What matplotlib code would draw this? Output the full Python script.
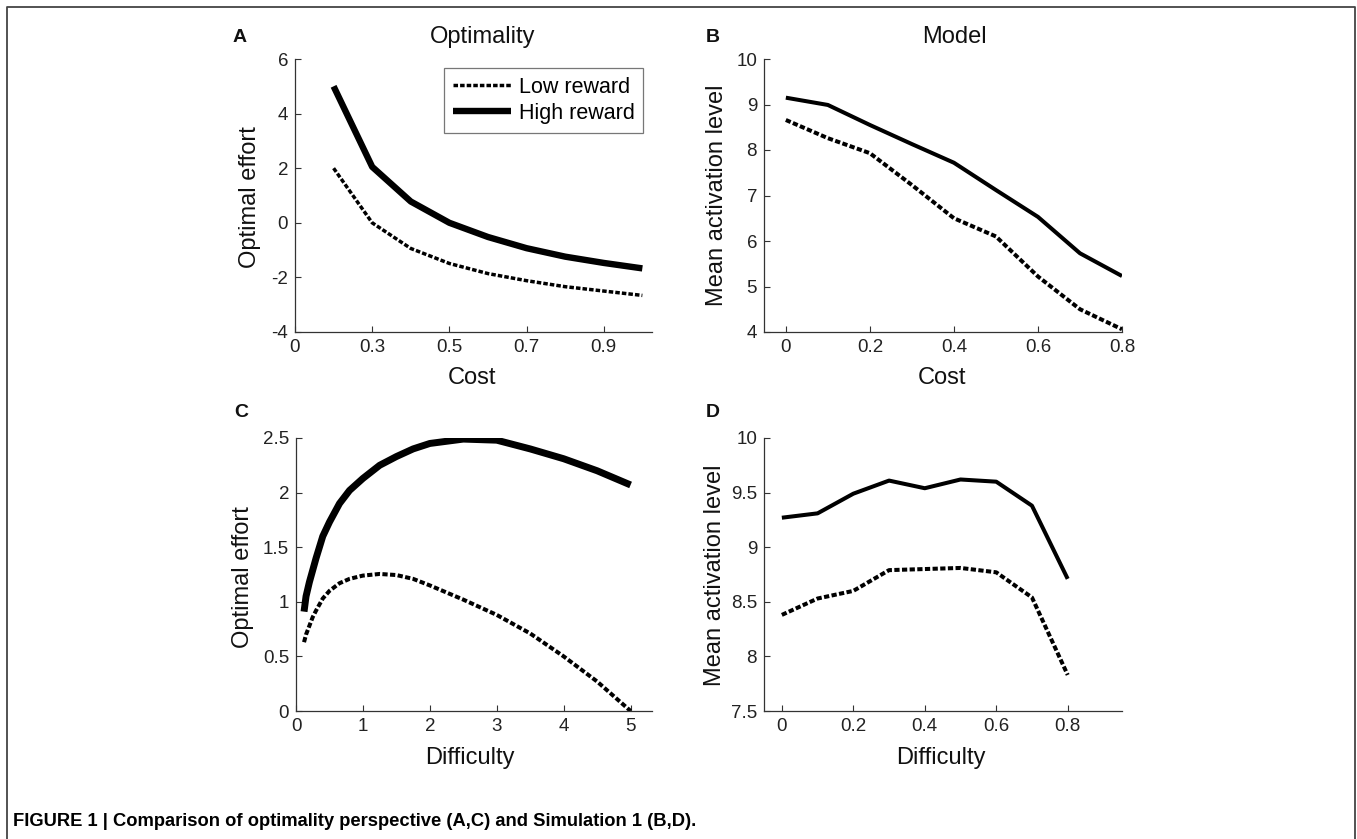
import numpy as np
import matplotlib
matplotlib.use('Agg')
import matplotlib.pyplot as plt
from matplotlib.ticker import FuncFormatter

plt.rcParams['font.family'] = ['Liberation Sans', 'DejaVu Sans']

# Panel A: optimality vs cost
cost_a = [0.2, 0.3, 0.4, 0.5, 0.6, 0.7, 0.8, 0.9, 1.0]
a_low = [2.0, 0.0, -0.94, -1.49, -1.86, -2.12, -2.34, -2.5, -2.66]
a_high = [5.0, 2.05, 0.78, 0.0, -0.52, -0.93, -1.24, -1.47, -1.67]
a_xticks = [0.1, 0.3, 0.5, 0.7, 0.9]
a_xticklabels = ['0', '0.3', '0.5', '0.7', '0.9']

# Panel B: model vs cost
cost_b = [0, 0.1, 0.2, 0.3, 0.4, 0.5, 0.6, 0.7, 0.8]
b_low = [8.66, 8.26, 7.93, 7.23, 6.5, 6.1, 5.22, 4.5, 4.06]
b_high = [9.15, 8.99, 8.55, 8.13, 7.72, 7.12, 6.53, 5.73, 5.23]

# Panel C: optimality vs difficulty
diff_c = [0.12, 0.15, 0.2, 0.25, 0.3, 0.4, 0.5, 0.65, 0.8, 1.0, 1.25, 1.5, 1.75, 2.0,
          2.5, 3.0, 3.5, 4.0, 4.5, 5.0]
c_low = [0.63, 0.7, 0.78, 0.86, 0.92, 1.03, 1.1, 1.17, 1.21, 1.24, 1.255, 1.245, 1.21, 1.15,
         1.02, 0.88, 0.71, 0.5, 0.27, 0.0]
c_high = [0.91, 1.05, 1.18, 1.29, 1.4, 1.6, 1.73, 1.9, 2.02, 2.13, 2.25, 2.33, 2.4, 2.45,
          2.49, 2.48, 2.4, 2.31, 2.2, 2.07]

# Panel D: model vs difficulty
diff_d = [0, 0.1, 0.2, 0.3, 0.4, 0.5, 0.6, 0.7, 0.8]
d_low = [8.38, 8.53, 8.60, 8.79, 8.80, 8.81, 8.77, 8.54, 7.83]
d_high = [9.27, 9.31, 9.49, 9.61, 9.54, 9.62, 9.60, 9.38, 8.71]

W, H = 1357, 839
fig = plt.figure(figsize=(W / 100, H / 100), dpi=100)


def add_ax(l, t, r, b):
    return fig.add_axes([l / W, 1 - b / H, (r - l) / W, (b - t) / H])


def style(ax):
    for s in ['top', 'right']:
        ax.spines[s].set_visible(False)
    for s in ['left', 'bottom']:
        ax.spines[s].set_color('#333333')
        ax.spines[s].set_linewidth(0.9)
    ax.tick_params(direction='in', length=4, width=0.8, color='#333333',
                   labelsize=13.5, pad=5, labelcolor='#222222')
    ax.yaxis.set_major_formatter(FuncFormatter(lambda v, p: '%g' % v))
    ax.xaxis.set_major_formatter(FuncFormatter(lambda v, p: '%g' % v))


dash = (0, (1.3, 0.6))
solid = dict(color='black', solid_joinstyle='round', solid_capstyle='butt')

axA = add_ax(295, 59, 652, 332)
axA.plot(cost_a, a_low, color='black', lw=2.5, ls=dash, label='Low reward')
axA.plot(cost_a, a_high, lw=4.6, label='High reward', **solid)
axA.set_xlim(0.1, 1.025)
axA.set_ylim(-4, 6)
axA.set_yticks([-4, -2, 0, 2, 4, 6])
style(axA)
axA.set_xticks(a_xticks)
axA.set_xticklabels(a_xticklabels)
leg = axA.legend(loc='upper right', bbox_to_anchor=(0.975, 0.967), fontsize=15.5,
                 handlelength=2.7, handletextpad=0.35, labelspacing=0.25,
                 borderpad=0.4, fancybox=False, borderaxespad=0)
leg.get_frame().set_edgecolor('#555555')
leg.get_frame().set_linewidth(0.9)

axB = add_ax(764, 59, 1122, 332)
axB.plot(cost_b, b_low, color='black', lw=2.9, ls=dash)
axB.plot(cost_b, b_high, lw=2.9, **solid)
axB.set_xlim(-0.052, 0.8)
axB.set_ylim(4, 10)
axB.set_xticks([0, 0.2, 0.4, 0.6, 0.8])
axB.set_yticks([4, 5, 6, 7, 8, 9, 10])
style(axB)

axC = add_ax(296, 438, 652, 711)
axC.plot(diff_c, c_low, color='black', lw=2.9, ls=dash)
axC.plot(diff_c, c_high, lw=5.0, **solid)
axC.set_xlim(0, 5.32)
axC.set_ylim(0, 2.5)
axC.set_xticks([0, 1, 2, 3, 4, 5])
axC.set_yticks([0, 0.5, 1, 1.5, 2, 2.5])
style(axC)

axD = add_ax(764, 438, 1122, 711)
axD.plot(diff_d, d_low, color='black', lw=2.9, ls=dash)
axD.plot(diff_d, d_high, lw=2.9, **solid)
axD.set_xlim(-0.05, 0.952)
axD.set_ylim(7.5, 10)
axD.set_xticks([0, 0.2, 0.4, 0.6, 0.8])
axD.set_yticks([7.5, 8, 8.5, 9, 9.5, 10])
style(axD)


def ftext(x, y, s, **kw):
    fig.text(x / W, 1 - y / H, s, ha='center', va='center', color='#111111', **kw)


# titles and panel letters
ftext(483, 37, 'Optimality', fontsize=17)
ftext(954, 37, 'Model', fontsize=17)
for letter, x, y in [('A', 240, 37), ('B', 713, 37), ('C', 241, 412), ('D', 713, 412)]:
    ftext(x, y, letter, fontsize=14, fontweight='bold')

# axis labels
ftext(472, 378, 'Cost', fontsize=17)
ftext(942, 378, 'Cost', fontsize=17)
ftext(470, 758, 'Difficulty', fontsize=17)
ftext(941, 758, 'Difficulty', fontsize=17)
ftext(250, 197, 'Optimal effort', fontsize=17, rotation=90)
ftext(243, 577, 'Optimal effort', fontsize=17, rotation=90)
ftext(717, 195, 'Mean activation level', fontsize=17, rotation=90)
ftext(715, 575, 'Mean activation level', fontsize=17, rotation=90)

# caption
fig.text(13 / W, 1 - 822 / H, 'FIGURE 1 | Comparison of optimality perspective (A,C) and Simulation 1 (B,D).',
         ha='left', va='center', fontsize=13.2, fontweight='bold', color='black')

# outer frame (open at the bottom)
fx = [7 / W, 7 / W, 1355 / W, 1355 / W]
fy = [0, 1 - 7 / H, 1 - 7 / H, 0]
fig.add_artist(plt.Line2D(fx, fy, color='#444444', lw=1.3))

fig.savefig('out.png', dpi=100)
